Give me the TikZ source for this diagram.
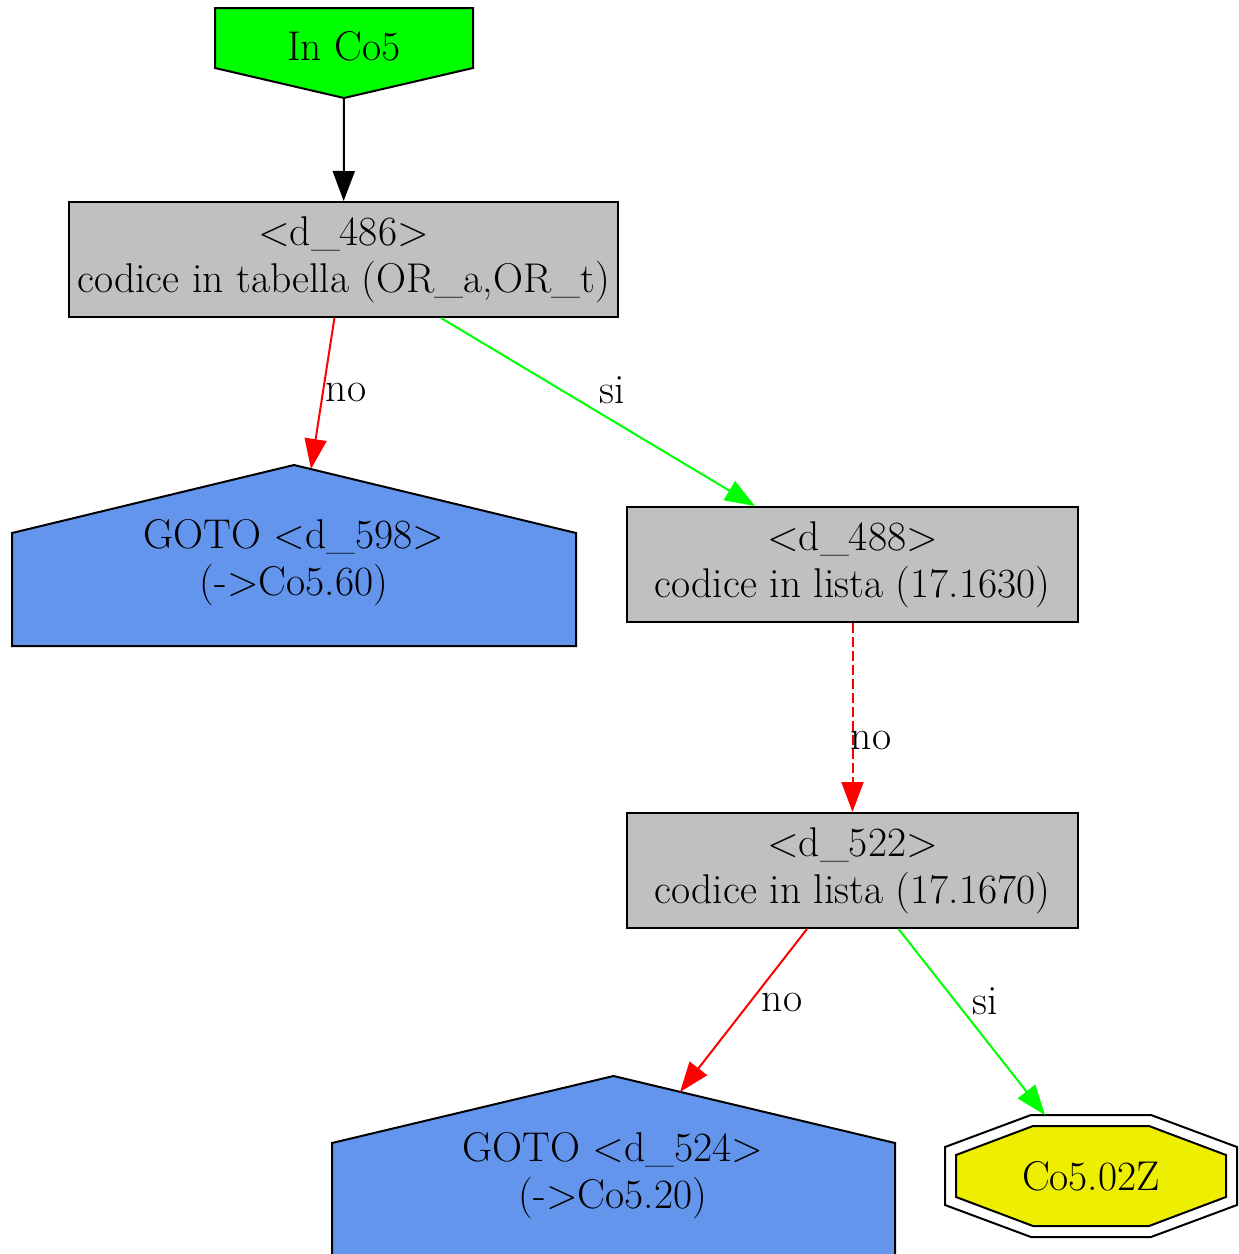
\documentclass[tikz,border=0pt]{standalone}
\usetikzlibrary{arrows.meta,positioning}
\definecolor{boxgray}{HTML}{C0C0C0}
\definecolor{gotoblue}{HTML}{6495ED}
\definecolor{ingreen}{HTML}{00FF00}
\definecolor{outyellow}{HTML}{EEEE00}

\begin{document}
\begin{tikzpicture}[x=0.5pt,y=-0.5pt,
every node/.style={font=\fontsize{20.8}{23.5}\selectfont,align=center,inner sep=0pt},
testbox/.style={draw,fill=boxgray,line width=1pt,minimum height=57.5pt},
gotoshape/.style={draw,fill=gotoblue,line width=1pt},
yesedge/.style={draw=ingreen,line width=1pt,-{Triangle[length=15pt,width=11pt]}},
noedge/.style={draw=red,line width=1pt,-{Triangle[length=15pt,width=11pt]}}]
\useasboundingbox (0,0) rectangle (1238,1254);
\clip (0,0) rectangle (1238,1254);

% shapes drawn as polygons
\draw[fill=ingreen,line width=1pt] (215,8)--(473,8)--(473,68)--(344,98)--(215,68)--cycle;
\draw[gotoshape] (12,646)--(576,646)--(576,533)--(294,465)--(12,533)--cycle;
\draw[gotoshape] (332,1262)--(895,1262)--(895,1143)--(613.5,1076)--(332,1143)--cycle;
\draw[line width=1pt] (1031,1115)--(1151,1115)--(1237,1147)--(1237,1205)--(1151,1237)--(1031,1237)--(945,1205)--(945,1147)--cycle;
\draw[fill=outyellow,line width=1pt] (1033,1126)--(1149,1126)--(1226,1155)--(1226,1197)--(1149,1226)--(1033,1226)--(956,1197)--(956,1155)--cycle;

\node (inco5) at (344,46) {In Co5};
\coordinate (inco5 tip) at (344,98);
\node[testbox,minimum width=274.5pt] (d486) at (343.5,259.5) {<d\_486>\\codice in tabella (OR\_a,OR\_t)};
\node (d598) at (294,563) {GOTO <d\_598>\\(->Co5.60)};
\coordinate (d598 in) at (311,469);
\node[testbox,minimum width=225.5pt] (d488) at (852.5,564.5) {<d\_488>\\codice in lista (17.1630)};
\node[testbox,minimum width=225.5pt] (d522) at (852.5,870.5) {<d\_522>\\codice in lista (17.1670)};
\node (d524) at (613,1176) {GOTO <d\_524>\\(->Co5.20)};
\coordinate (d524 in) at (680,1092);
\node (co502z) at (1091,1176) {Co5.02Z};
\coordinate (co502z in) at (1045,1115);

\draw[line width=1pt,-{Triangle[length=15pt,width=11pt]}] (inco5 tip)--(d486);
\draw[noedge] (d486)--(d598 in);
\draw[yesedge] (d486)--(d488);
\draw[noedge,dash pattern=on 5pt off 2pt] (d488)--(d522);
\draw[noedge] (d522)--(d524 in);
\draw[yesedge] (d522)--(co502z in);

\node (no1) at (346,392) {no};
\node (si1) at (612,390) {si};
\node (no2) at (871,740) {no};
\node (no3) at (782,1002) {no};
\node (si2) at (985,1001) {si};

\end{tikzpicture}
\end{document}
